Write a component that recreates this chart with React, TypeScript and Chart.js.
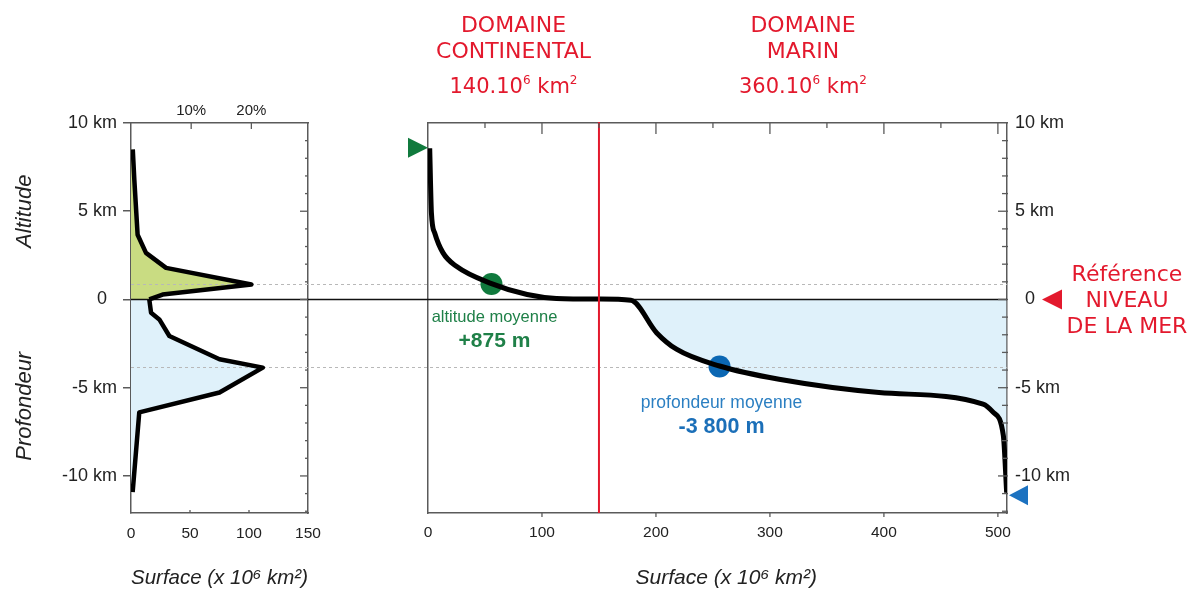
import React, { useEffect, useRef } from 'react';
import { Chart, registerables } from 'chart.js';

Chart.register(...registerables);
Chart.defaults.font.family = '"Liberation Sans", Arial, sans-serif';
Chart.defaults.color = '#222';

// ---------- shared vertical scale (km) ----------
const Y_MIN = -12.1;
const Y_MAX = 10;
const kmTicks = [-10, -5, 0, 5, 10];

// ---------- left panel: area per elevation band (10^6 km2) ----------
const landBandElev = [8.5, 6.8, 3.67, 2.64, 1.79, 0.85, 0.28, 0];
const landBandArea = [1.5, 2.8, 5.6, 12.7, 29.7, 102, 26.8, 15.5];
const seaBandElev = [0, -0.75, -1.13, -2.07, -3.39, -3.86, -5.27, -6.4, -10.92];
const seaBandArea = [15.5, 17, 24, 32.5, 75, 111.7, 75, 7, 1.4];
const leftAreaMax = 150;
const leftAreaTicks = [0, 50, 100, 150];
const pctLabels = [10, 20];
const totalEarthArea = 510;

// ---------- right panel: hypsometric curve ----------
const cumArea = [1.5, 3, 5.9, 13.2, 24.9, 55.7, 87, 112.7, 150, 178, 200.5, 218, 255.8, 308, 395.7, 487, 496, 504.8, 507.7];
const cumElev = [8.57, 4.9, 3.77, 2.64, 1.88, 0.9, 0.28, 0.06, 0.02, -0.05, -1.88, -2.82, -3.77, -4.52, -5.27, -5.93, -6.4, -7.72, -10.95];
const rightAreaMax = 508;
const rightAreaTicks = [0, 100, 200, 300, 400, 500];
const continentalLimit = 150;
const meanAltitude = 0.875;
const meanAltitudeArea = 55.7;
const meanDepth = -3.8;
const meanDepthArea = 255.8;
const peakElev = 8.6;
const trenchElev = -11.1;

const AXIS = '#5a5a5a';
const RED = '#e3192d';
const GREEN = '#107a3d';
const GREEN_TXT = '#1f8048';
const BLUE = '#0b67b3';
const BLUE_TXT = '#2b7fc2';
const GREEN_FILL = '#c9dc82';
const BLUE_FILL = '#dff1fa';
const FONT = '"Liberation Sans", Arial, sans-serif';
const RED_FONT = '"DejaVu Sans", sans-serif';

function line(ctx: CanvasRenderingContext2D, x1: number, y1: number, x2: number, y2: number) {
  ctx.beginPath();
  ctx.moveTo(x1, y1);
  ctx.lineTo(x2, y2);
  ctx.stroke();
}

function richText(ctx: CanvasRenderingContext2D, parts: [string, boolean][], cx: number, cy: number, size: number, family: string, color: string) {
  const supSize = Math.round(size * 0.55);
  let w = 0;
  for (const [t, sup] of parts) {
    ctx.font = `${sup ? supSize : size}px ${family}`;
    w += ctx.measureText(t).width;
  }
  let x = cx - w / 2;
  const base = cy + size * 0.36;
  ctx.textAlign = 'left';
  ctx.textBaseline = 'alphabetic';
  ctx.fillStyle = color;
  for (const [t, sup] of parts) {
    ctx.font = `${sup ? supSize : size}px ${family}`;
    ctx.fillText(t, x, sup ? base - size * 0.42 : base);
    x += ctx.measureText(t).width;
  }
}

function centerText(ctx: CanvasRenderingContext2D, t: string, cx: number, cy: number, font: string, color: string) {
  ctx.font = font;
  ctx.fillStyle = color;
  ctx.textAlign = 'center';
  ctx.textBaseline = 'middle';
  ctx.fillText(t, cx, cy);
}

function refLines(chart: any, x1: number, x2: number) {
  const { ctx, scales } = chart;
  const y = scales.y;
  ctx.save();
  ctx.strokeStyle = '#b8b8b8';
  ctx.lineWidth = 1;
  ctx.setLineDash([3, 3]);
  for (const v of [meanAltitude, meanDepth]) {
    const py = Math.round(y.getPixelForValue(v)) + 0.5;
    line(ctx, x1, py, x2, py);
  }
  ctx.setLineDash([]);
  ctx.strokeStyle = '#111';
  ctx.lineWidth = 1.5;
  const p0 = y.getPixelForValue(0);
  line(ctx, x1, p0, x2, p0);
  ctx.restore();
}

const leftDecor = {
  id: 'leftDecor',
  beforeDatasetsDraw(chart: any) {
    refLines(chart, chart.chartArea.left, chart.width);
  },
  afterDraw(chart: any) {
    const { ctx, chartArea: a, scales } = chart;
    const y = scales.y;
    const x = scales.x;
    ctx.save();
    ctx.strokeStyle = AXIS;
    ctx.lineWidth = 1.3;
    for (let v = Math.ceil(Y_MIN); v < Y_MAX; v++) {
      const py = y.getPixelForValue(v);
      const len = v % 5 === 0 ? 8 : 3;
      line(ctx, a.right - len, py, a.right, py);
    }
    for (const v of leftAreaTicks.slice(1, -1)) {
      const px = x.getPixelForValue(v);
      line(ctx, px, a.bottom, px, a.bottom - 3);
    }
    for (const p of pctLabels) {
      const px = x.getPixelForValue((p / 100) * totalEarthArea);
      line(ctx, px, a.top, px, a.top + 6);
    }
    // axis titles
    const tf = `italic 22px ${FONT}`;
    for (const [t, v] of [['Altitude', Y_MAX / 2], ['Profondeur', Y_MIN / 2]] as [string, number][]) {
      ctx.save();
      ctx.translate(25, y.getPixelForValue(v));
      ctx.rotate(-Math.PI / 2);
      centerText(ctx, t, 0, 0, tf, '#222');
      ctx.restore();
    }
    ctx.restore();
  },
};

const rightDecor = {
  id: 'rightDecor',
  beforeDatasetsDraw(chart: any) {
    refLines(chart, 0, chart.chartArea.right);
  },
  afterDatasetsDraw(chart: any) {
    const { ctx, chartArea: a, scales } = chart;
    const x = scales.x;
    ctx.save();
    ctx.strokeStyle = RED;
    ctx.lineWidth = 2;
    const px = x.getPixelForValue(continentalLimit);
    line(ctx, px, a.top - 1, px, a.bottom);
    ctx.restore();
  },
  afterDraw(chart: any) {
    const { ctx, chartArea: a, scales } = chart;
    const x = scales.x;
    const y = scales.y;
    ctx.save();
    // ticks
    ctx.strokeStyle = AXIS;
    ctx.lineWidth = 1.3;
    for (let v = 50; v < rightAreaMax; v += 50) {
      const p = x.getPixelForValue(v);
      const len = v % 100 === 0 ? 11 : 5;
      line(ctx, p, a.top, p, a.top + len);
    }
    for (const v of rightAreaTicks.slice(1)) {
      const p = x.getPixelForValue(v);
      line(ctx, p, a.bottom, p, a.bottom + 4);
    }
    for (let v = Math.ceil(Y_MIN); v < Y_MAX; v++) {
      const p = y.getPixelForValue(v);
      const len = v % 5 === 0 ? 9 : 5;
      line(ctx, a.right - len, p, a.right + 1, p);
    }
    // peak & trench markers
    const x0 = x.getPixelForValue(0);
    const yp = y.getPixelForValue(peakElev);
    ctx.fillStyle = GREEN;
    ctx.beginPath();
    ctx.moveTo(x0, yp);
    ctx.lineTo(x0 - 20, yp - 10);
    ctx.lineTo(x0 - 20, yp + 10);
    ctx.closePath();
    ctx.fill();
    const yt = y.getPixelForValue(trenchElev);
    ctx.fillStyle = '#1c72c0';
    ctx.beginPath();
    ctx.moveTo(a.right + 2, yt);
    ctx.lineTo(a.right + 21, yt - 10);
    ctx.lineTo(a.right + 21, yt + 10);
    ctx.closePath();
    ctx.fill();
    // sea level reference
    const y0 = y.getPixelForValue(0);
    ctx.fillStyle = RED;
    ctx.beginPath();
    ctx.moveTo(a.right + 35, y0);
    ctx.lineTo(a.right + 55, y0 - 10);
    ctx.lineTo(a.right + 55, y0 + 10);
    ctx.closePath();
    ctx.fill();
    const rf = `22px ${RED_FONT}`;
    const rx = a.right + 120;
    centerText(ctx, 'Référence', rx, y0 - 24, rf, RED);
    centerText(ctx, 'NIVEAU', rx, y0 + 2, rf, RED);
    centerText(ctx, 'DE LA MER', rx, y0 + 28, rf, RED);
    // domain titles
    const cxC = x.getPixelForValue(continentalLimit / 2);
    const cxM = x.getPixelForValue((continentalLimit + rightAreaMax) / 2);
    centerText(ctx, 'DOMAINE', cxC, a.top - 97, rf, RED);
    centerText(ctx, 'CONTINENTAL', cxC, a.top - 71, rf, RED);
    richText(ctx, [['140.10', false], ['6', true], [' km', false], ['2', true]], cxC, a.top - 38, 21, RED_FONT, RED);
    centerText(ctx, 'DOMAINE', cxM, a.top - 97, rf, RED);
    centerText(ctx, 'MARIN', cxM, a.top - 71, rf, RED);
    richText(ctx, [['360.10', false], ['6', true], [' km', false], ['2', true]], cxM, a.top - 38, 21, RED_FONT, RED);
    // mean labels
    const gx = x.getPixelForValue(meanAltitudeArea) + 3;
    const gy = y.getPixelForValue(meanAltitude);
    centerText(ctx, 'altitude moyenne', gx, gy + 33, `16.5px ${FONT}`, GREEN_TXT);
    centerText(ctx, '+875 m', gx, gy + 57, `bold 21px ${FONT}`, GREEN_TXT);
    const bx = x.getPixelForValue(meanDepthArea) + 2;
    const by = y.getPixelForValue(meanDepth);
    centerText(ctx, 'profondeur moyenne', bx, by + 37, `17.5px ${FONT}`, BLUE_TXT);
    centerText(ctx, '-3 800 m', bx, by + 61, `bold 21.5px ${FONT}`, '#1b6fb8');
    ctx.restore();
  },
};

const border = { display: true, color: AXIS, width: 1.5 };
const noGrid = { display: false, drawTicks: false };
const surfaceTitle = (lead: string) => ({
  display: true,
  text: `${lead}Surface (x 10⁶ km²)`,
  font: { size: 21, style: 'italic' as const },
  color: '#222',
  padding: 0,
});

function leftConfig(): any {
  return {
    type: 'line',
    data: {
      datasets: [
        {
          data: landBandElev.map((e, i) => ({ x: landBandArea[i], y: e })),
          borderColor: '#000',
          borderWidth: 4.5,
          backgroundColor: GREEN_FILL,
          fill: 'origin',
          pointRadius: 0,
          tension: 0,
          borderJoinStyle: 'round',
        },
        {
          data: seaBandElev.map((e, i) => ({ x: seaBandArea[i], y: e })),
          borderColor: '#000',
          borderWidth: 4.5,
          backgroundColor: BLUE_FILL,
          fill: 'origin',
          pointRadius: 0,
          tension: 0,
          borderJoinStyle: 'round',
        },
      ],
    },
    options: {
      indexAxis: 'y',
      animation: false,
      responsive: false,
      maintainAspectRatio: false,
      layout: { padding: { left: 0, right: 91, top: 0, bottom: 0 } },
      plugins: {
        legend: { display: false },
        tooltip: { enabled: false },
        filler: { drawTime: 'beforeDatasetsDraw' },
      },
      scales: {
        x: {
          type: 'linear',
          axis: 'x',
          position: 'bottom',
          min: 0,
          max: leftAreaMax,
          afterBuildTicks: (s: any) => {
            s.ticks = leftAreaTicks.map((v) => ({ value: v }));
          },
          ticks: { font: { size: 15.5 }, color: '#222', padding: 11, maxRotation: 0, autoSkip: false },
          grid: noGrid,
          border,
          title: surfaceTitle(''),
          afterFit: (s: any) => {
            s.height = 78;
          },
        },
        xTop: {
          type: 'linear',
          axis: 'x',
          position: 'top',
          min: 0,
          max: leftAreaMax,
          afterBuildTicks: (s: any) => {
            s.ticks = pctLabels.map((p) => ({ value: (p / 100) * totalEarthArea }));
          },
          ticks: {
            font: { size: 15 },
            color: '#222',
            padding: 3,
            maxRotation: 0,
            autoSkip: false,
            callback: (_v: number, i: number) => `${pctLabels[i]}%`,
          },
          grid: noGrid,
          border,
          afterFit: (s: any) => {
            s.height = 123;
          },
        },
        y: {
          type: 'linear',
          axis: 'y',
          position: 'left',
          min: Y_MIN,
          max: Y_MAX,
          afterBuildTicks: (s: any) => {
            s.ticks = kmTicks.map((v) => ({ value: v }));
          },
          ticks: {
            font: { size: 18 },
            color: '#222',
            padding: 6,
            autoSkip: false,
            callback: (v: number) => (v === 0 ? '0  ' : `${v} km`),
          },
          grid: { display: true, drawOnChartArea: false, drawTicks: true, tickLength: 8, color: AXIS, lineWidth: 1.5 },
          border,
          afterFit: (s: any) => {
            s.width = 131;
          },
        },
        yRight: {
          type: 'linear',
          axis: 'y',
          position: 'right',
          min: Y_MIN,
          max: Y_MAX,
          ticks: { display: false },
          grid: noGrid,
          border,
          afterFit: (s: any) => {
            s.width = 1;
          },
        },
      },
    },
    plugins: [leftDecor],
  };
}

function rightConfig(): any {
  return {
    type: 'line',
    data: {
      datasets: [
        {
          data: cumArea.map((a, i) => ({ x: a, y: cumElev[i] })),
          borderColor: '#000',
          borderWidth: 5,
          pointRadius: 0,
          cubicInterpolationMode: 'monotone',
          fill: { target: 'origin', above: 'rgba(0,0,0,0)', below: BLUE_FILL },
        },
        {
          data: [{ x: meanAltitudeArea, y: meanAltitude }],
          showLine: false,
          pointRadius: 11,
          pointBackgroundColor: GREEN,
          pointBorderWidth: 0,
          fill: false,
        },
        {
          data: [{ x: meanDepthArea, y: meanDepth }],
          showLine: false,
          pointRadius: 11,
          pointBackgroundColor: BLUE,
          pointBorderWidth: 0,
          fill: false,
        },
      ],
    },
    options: {
      animation: false,
      responsive: false,
      maintainAspectRatio: false,
      layout: { padding: 0 },
      plugins: {
        legend: { display: false },
        tooltip: { enabled: false },
        filler: { drawTime: 'beforeDatasetsDraw' },
      },
      scales: {
        x: {
          type: 'linear',
          axis: 'x',
          position: 'bottom',
          min: 0,
          max: rightAreaMax,
          afterBuildTicks: (s: any) => {
            s.ticks = rightAreaTicks.map((v) => ({ value: v }));
          },
          ticks: { font: { size: 15.5 }, color: '#222', padding: 10.5, maxRotation: 0, autoSkip: false },
          grid: noGrid,
          border,
          title: surfaceTitle('   '),
          afterFit: (s: any) => {
            s.height = 78;
          },
        },
        xTop: {
          type: 'linear',
          axis: 'x',
          position: 'top',
          min: 0,
          max: rightAreaMax,
          ticks: { display: false },
          grid: noGrid,
          border,
          afterFit: (s: any) => {
            s.height = 123;
          },
        },
        y: {
          type: 'linear',
          axis: 'y',
          position: 'right',
          min: Y_MIN,
          max: Y_MAX,
          afterBuildTicks: (s: any) => {
            s.ticks = kmTicks.map((v) => ({ value: v }));
          },
          ticks: {
            font: { size: 18 },
            color: '#222',
            padding: 8,
            autoSkip: false,
            callback: (v: number) => (v === 0 ? '  0' : `${v} km`),
          },
          grid: noGrid,
          border,
          afterFit: (s: any) => {
            s.width = 184;
          },
        },
        yLeft: {
          type: 'linear',
          axis: 'y',
          position: 'left',
          min: Y_MIN,
          max: Y_MAX,
          ticks: { display: false },
          grid: noGrid,
          border,
          afterFit: (s: any) => {
            s.width = 28;
          },
        },
      },
    },
    plugins: [rightDecor],
  };
}

export default function App() {
  const leftRef = useRef<HTMLCanvasElement>(null);
  const rightRef = useRef<HTMLCanvasElement>(null);
  useEffect(() => {
    const l = new Chart(leftRef.current!, leftConfig());
    const r = new Chart(rightRef.current!, rightConfig());
    return () => {
      l.destroy();
      r.destroy();
    };
  }, []);
  return (
    <div style={{ position: 'absolute', left: 0, top: 0, width: 1191, height: 591, background: '#fff', overflow: 'hidden' }}>
      <canvas ref={leftRef} width={400} height={591} style={{ position: 'absolute', left: 0, top: 0, width: 400, height: 591 }} />
      <canvas ref={rightRef} width={791} height={591} style={{ position: 'absolute', left: 400, top: 0, width: 791, height: 591 }} />
    </div>
  );
}
